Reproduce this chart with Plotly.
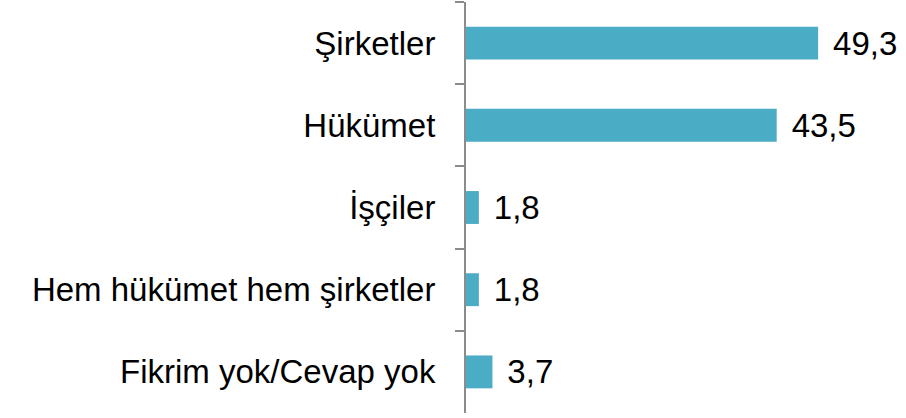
import plotly.graph_objects as go

categories = ["Şirketler", "Hükümet", "İşçiler", "Hem hükümet hem şirketler", "Fikrim yok/Cevap yok"]
values = [49.3, 43.5, 1.8, 1.8, 3.7]
value_labels = ["49,3", "43,5", "1,8", "1,8", "3,7"]

FONT = "Liberation Sans, Arial, sans-serif"

fig = go.Figure(go.Bar(
    x=values, y=categories, orientation="h",
    marker=dict(color="#4BACC6", line=dict(width=0)),
    width=0.4,
    text=["\u00a0\u200a" + t for t in value_labels], textposition="outside", cliponaxis=False,
    constraintext="none",
    textfont=dict(family=FONT, size=33, color="#000000"),
    hoverinfo="skip",
))

fig.update_layout(
    template="none",
    width=906, height=418,
    margin=dict(l=466, r=0, t=2, b=5, autoexpand=False),
    paper_bgcolor="white", plot_bgcolor="white",
    showlegend=False,
    font=dict(family=FONT, size=32, color="#000000"),
    xaxis=dict(visible=False, range=[0, 61.6], automargin=False),
    yaxis=dict(
        autorange="reversed", automargin=False,
        showline=True, linecolor="#8c8c8c", linewidth=2,
        ticks="outside", tickson="boundaries", ticklen=9, tickwidth=2, tickcolor="#8c8c8c",
        showgrid=False, zeroline=False,
        tickfont=dict(family=FONT, size=33, color="#000000"),
        ticklabelstandoff=22,
    ),
)

fig.write_html(
    "out.html",
    config={"displayModeBar": False},
    post_script="document.body.style.margin='0';document.body.style.overflow='hidden';",
)
